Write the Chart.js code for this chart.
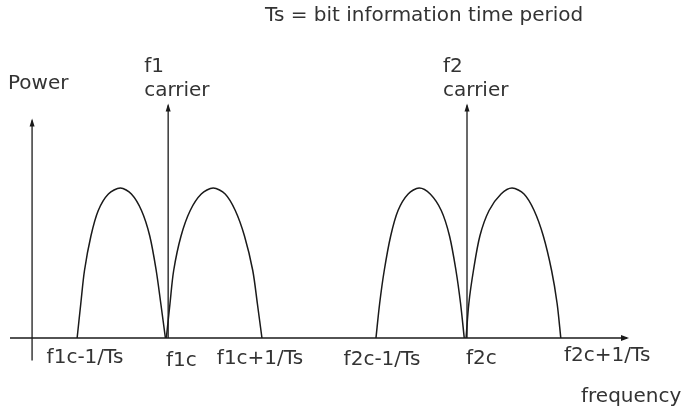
<!DOCTYPE html>
<html lang="en">
<head>
    <meta charset="UTF-8">
    <title>FSK spectrum</title>
    <script src="https://cdn.jsdelivr.net/npm/chart.js"></script>
    <style>
        html, body { margin: 0; padding: 0; background: #fff; }
        #wrap { width: 688px; height: 411px; }
    </style>
</head>
<body>
    <div id="wrap"><canvas id="spectrumChart" width="688" height="411"></canvas></div>
    <script>
        // frequency axis labels (x in units of ~1/Ts, y-axis at 0)
        const tickLabels = ['f1c-1/Ts', 'f1c', 'f1c+1/Ts', 'f2c-1/Ts', 'f2c', 'f2c+1/Ts'];
        const tickValues = [0.49, 1.46, 2.50, 3.74, 4.72, 5.75];

        // the four spectral lobes
        const lobeHeights = [0, 0.23, 0.45, 0.68, 0.85, 0.96, 1.0, 0.96, 0.85, 0.68, 0.45, 0.23, 0];
        const lobe1X = [0.49, 0.53, 0.57, 0.64, 0.72, 0.83, 0.96, 1.08, 1.19, 1.28, 1.35, 1.40, 1.45];
        const lobe2X = [1.46, 1.50, 1.54, 1.62, 1.72, 1.84, 1.97, 2.10, 2.21, 2.31, 2.40, 2.45, 2.50];
        const lobe3X = [3.74, 3.78, 3.83, 3.90, 3.98, 4.09, 4.21, 4.33, 4.45, 4.54, 4.61, 4.66, 4.70];
        const lobe4X = [4.72, 4.75, 4.80, 4.87, 4.97, 5.10, 5.22, 5.35, 5.46, 5.56, 5.65, 5.71, 5.75];

        // carriers and axes
        const carrierX = [1.48, 4.73];
        const carrierTop = 1.55;
        const carrierNames = ['f1', 'f2'];
        const freqAxisRange = [-0.24, 6.47];
        const powerAxisRange = [-0.15, 1.45];

        const titleText = 'Ts = bit information time period';
        const xTitle = 'frequency';
        const yTitle = 'Power';

        const lineColor = '#1a1a1a';
        const textColor = '#333';
        const font = '20px "DejaVu Sans", sans-serif';

        const pts = (xs, ys) => xs.map((x, i) => ({ x: x, y: ys[i] }));
        const lobe = xs => ({
            data: pts(xs, lobeHeights),
            borderColor: lineColor,
            borderWidth: 1.5,
            pointRadius: 0,
            tension: 0.3,
            fill: false,
            clip: false
        });
        const seg = (a, b, id) => ({
            id: id,
            data: [a, b],
            borderColor: lineColor,
            borderWidth: 1.3,
            pointRadius: 0,
            fill: false,
            clip: false
        });

        const datasets = [
            lobe(lobe1X), lobe(lobe2X), lobe(lobe3X), lobe(lobe4X),
            seg({ x: freqAxisRange[0], y: 0 }, { x: freqAxisRange[1], y: 0 }, 'right'),
            seg({ x: 0, y: powerAxisRange[0] }, { x: 0, y: powerAxisRange[1] }, 'up'),
            seg({ x: carrierX[0], y: 0 }, { x: carrierX[0], y: carrierTop }, 'up'),
            seg({ x: carrierX[1], y: 0 }, { x: carrierX[1], y: carrierTop }, 'up')
        ];

        // label placement: [label index, x px, baseline px, align]
        const tickLabelLayout = [
            [0, 85, 363, 'center'],
            [1, 166, 366, 'left'],
            [2, 260, 364, 'center'],
            [3, 382, 365, 'center'],
            [4, 466, 364, 'left'],
            [5, 564, 361, 'left']
        ];

        const annotate = {
            id: 'annotate',
            afterDatasetsDraw(chart) {
                const ctx = chart.ctx;
                const xs = chart.scales.x, ys = chart.scales.y;
                ctx.save();
                // arrow heads
                ctx.fillStyle = lineColor;
                chart.data.datasets.forEach(ds => {
                    if (!ds.id) return;
                    const end = ds.data[1];
                    const px = xs.getPixelForValue(end.x), py = ys.getPixelForValue(end.y);
                    ctx.beginPath();
                    if (ds.id === 'right') {
                        ctx.moveTo(px + 2, py);
                        ctx.lineTo(px - 6, py - 3);
                        ctx.lineTo(px - 6, py + 3);
                    } else {
                        ctx.moveTo(px, py - 2);
                        ctx.lineTo(px - 2.5, py + 6);
                        ctx.lineTo(px + 2.5, py + 6);
                    }
                    ctx.closePath();
                    ctx.fill();
                });

                ctx.fillStyle = textColor;
                ctx.font = font;
                ctx.textBaseline = 'alphabetic';
                tickLabelLayout.forEach(l => {
                    ctx.textAlign = l[3];
                    ctx.fillText(tickLabels[l[0]], l[1], l[2]);
                });
                ctx.textAlign = 'left';
                ctx.fillText(titleText, 265, 21);
                ctx.fillText(yTitle, 8, 89);
                ctx.fillText(xTitle, 581, 402);
                carrierX.forEach((cx, i) => {
                    const px = xs.getPixelForValue(cx) - 24;
                    ctx.fillText(carrierNames[i], px, 72);
                    ctx.fillText('carrier', px, 96);
                });
                ctx.restore();
            }
        };

        new Chart(document.getElementById('spectrumChart').getContext('2d'), {
            type: 'line',
            data: { datasets: datasets },
            options: {
                responsive: false,
                animation: false,
                events: [],
                layout: { padding: { left: 10, right: 61, top: 98, bottom: 43 } },
                plugins: { legend: { display: false }, tooltip: { enabled: false } },
                scales: {
                    x: { type: 'linear', display: false, min: freqAxisRange[0], max: freqAxisRange[1] },
                    y: { type: 'linear', display: false, min: -0.2, max: 1.6 }
                }
            },
            plugins: [annotate]
        });
    </script>
</body>
</html>
